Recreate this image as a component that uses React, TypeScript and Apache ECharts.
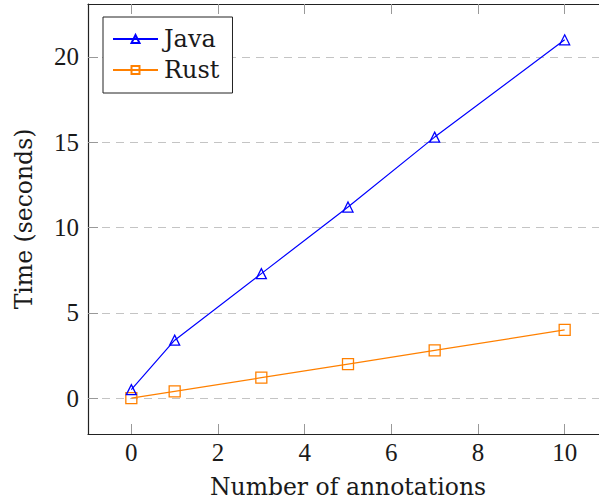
import React, { useEffect, useRef } from "react";
import * as echarts from "echarts";

// Benchmark: processing time vs. number of annotations
const annotationCounts = [0, 1, 3, 5, 7, 10];
const javaTimes = [0.5, 3.4, 7.3, 11.2, 15.3, 21];
const rustTimes = [0, 0.4, 1.2, 2.0, 2.8, 4.0];
const xTickValues = [0, 2, 4, 6, 8, 10];
const yTickValues = [0, 5, 10, 15, 20];

const FONT = "DejaVu Serif";
const TICK_FONT = "Liberation Serif";
const TEXT = "#1a1a1a";
const JAVA_COLOR = "#0000ff";
const RUST_COLOR = "#ff8000";

const axisLine = { show: true, onZero: false, lineStyle: { color: "#222", width: 1.2 } };
const innerTick = (values: number[]) => ({
  show: true,
  inside: true,
  length: 10,
  customValues: values,
  lineStyle: { color: "#999", width: 1 },
});

export default function App() {
  const ref = useRef<HTMLDivElement>(null);

  useEffect(() => {
    if (!ref.current) return;
    const chart = echarts.init(ref.current, undefined, { renderer: "svg" });
    const pairs = (ys: number[]) => annotationCounts.map((x, i) => [x, ys[i]]);

    chart.setOption({
      animation: false,
      backgroundColor: "#fff",
      // the plot box runs a little past the right edge of the canvas
      grid: {
        left: 88,
        top: 4,
        width: 520,
        height: 430,
        containLabel: false,
        outerBoundsMode: "none",
      },
      legend: {
        orient: "vertical",
        left: 103,
        top: 17,
        backgroundColor: "#fff",
        borderColor: "#222",
        borderWidth: 1,
        borderRadius: 0,
        padding: [10, 13, 11, 9],
        itemGap: 7,
        itemWidth: 45,
        itemHeight: 10,
        textStyle: { fontFamily: FONT, fontSize: 24, color: TEXT, padding: [0, 0, 0, 1] },
        data: ["Java", "Rust"],
      },
      xAxis: [
        {
          type: "value",
          min: -1,
          max: 11,
          position: "bottom",
          name: "Number of annotations",
          nameLocation: "middle",
          nameGap: 41,
          nameTextStyle: { fontFamily: FONT, fontSize: 23.5, color: TEXT },
          axisLine,
          axisTick: innerTick(xTickValues),
          axisLabel: {
            margin: 6,
            customValues: xTickValues,
            fontFamily: TICK_FONT,
            fontSize: 25,
            color: TEXT,
          },
          splitLine: { show: false },
        },
        {
          type: "value",
          min: -1,
          max: 11,
          position: "top",
          axisLine,
          axisTick: innerTick(xTickValues),
          axisLabel: { show: false },
          splitLine: { show: false },
        },
      ],
      yAxis: {
        type: "value",
        min: -2.1,
        max: 23.1,
        name: "Time (seconds)",
        nameLocation: "middle",
        nameGap: 52,
        nameTextStyle: { fontFamily: FONT, fontSize: 23.5, color: TEXT },
        axisLine,
        axisTick: innerTick(yTickValues),
        axisLabel: {
          margin: 9,
          customValues: yTickValues,
          fontFamily: TICK_FONT,
          fontSize: 25,
          color: TEXT,
        },
        splitLine: {
          show: true,
          lineStyle: { color: "#c4c4c4", width: 1, type: [8, 6] },
        },
      },
      series: [
        {
          name: "Java",
          type: "line",
          data: pairs(javaTimes),
          symbol: "triangle",
          symbolSize: 10,
          showAllSymbol: true,
          lineStyle: { color: JAVA_COLOR, width: 1.2 },
          itemStyle: { color: "rgba(0,0,0,0)", borderColor: JAVA_COLOR, borderWidth: 1.3 },
          emphasis: { disabled: true },
          z: 3,
        },
        {
          name: "Rust",
          type: "line",
          data: pairs(rustTimes),
          symbol: "rect",
          symbolSize: 11,
          showAllSymbol: true,
          lineStyle: { color: RUST_COLOR, width: 1.2 },
          itemStyle: { color: "rgba(0,0,0,0)", borderColor: RUST_COLOR, borderWidth: 1.3 },
          emphasis: { disabled: true },
          z: 2,
        },
      ],
    });

    return () => chart.dispose();
  }, []);

  return (
    <div
      ref={ref}
      style={{ position: "fixed", left: 0, top: 0, width: 599, height: 501 }}
    />
  );
}
